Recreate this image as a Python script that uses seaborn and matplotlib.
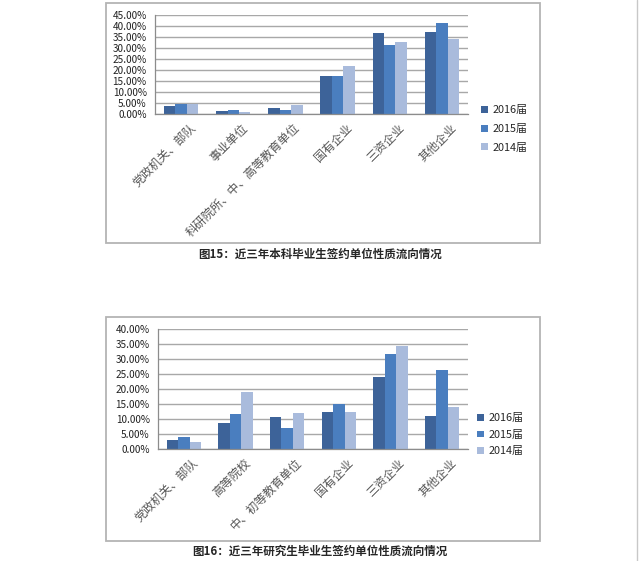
import pandas as pd
import seaborn as sns
import matplotlib.pyplot as plt
import matplotlib.transforms as mtransforms
from matplotlib.patches import Patch, Rectangle
from matplotlib.lines import Line2D
from matplotlib.ticker import FuncFormatter, MultipleLocator, FixedLocator

# data (percent)
years = ['2016届', '2015届', '2014届']

cats1 = ['党政机关、部队', '事业单位', '科研院所、中、高等教育单位', '国有企业', '三资企业', '其他企业']
v1_2016 = [3.8, 1.4, 2.9, 17.2, 36.6, 37.2]
v1_2015 = [4.7, 1.7, 2.0, 17.3, 31.3, 41.3]
v1_2014 = [4.7, 1.1, 4.1, 21.9, 32.7, 34.0]

cats2 = ['党政机关、部队', '高等院校', '中、初等教育单位', '国有企业', '三资企业', '其他企业']
v2_2016 = [3.0, 8.6, 10.6, 12.4, 24.1, 11.1]
v2_2015 = [4.0, 11.6, 7.0, 15.0, 31.7, 26.2]
v2_2014 = [2.5, 19.0, 12.0, 12.2, 34.3, 14.1]

caption1 = '图15：近三年本科毕业生签约单位性质流向情况'
caption2 = '图16：近三年研究生毕业生签约单位性质流向情况'

colors = ['#3d6399', '#4a7ebf', '#a9bbdc']

sns.set_style('white')
plt.rcParams['font.family'] = ['Noto Sans CJK SC', 'DejaVu Sans']

W, H = 640, 561
fig = plt.figure(figsize=(W / 100, H / 100), dpi=100)


def long_df(cats, a, b, c):
    rows = []
    for yr, vals in zip(years, [a, b, c]):
        for cat, v in zip(cats, vals):
            rows.append({'单位': cat, '比例': v, '届': yr})
    return pd.DataFrame(rows)


def px_axes(left, top, right, bottom):
    return fig.add_axes([left / W, 1 - bottom / H, (right - left) / W, (bottom - top) / H])


def box(left, top, right, bottom):
    fig.patches.append(Rectangle((left / W, 1 - bottom / H), (right - left) / W, (bottom - top) / H,
                                 transform=fig.transFigure, fill=False,
                                 edgecolor='#b4b4b4', lw=1.3))


def draw(ax, df, cats, ymax, legend_xy, spacing):
    sns.barplot(data=df, x='单位', y='比例', hue='届', order=cats, hue_order=years,
                palette=colors, width=0.66, saturation=1, legend=False, ax=ax,
                edgecolor='none')
    ax.set_ylim(0, ymax)
    ax.set_xlim(-0.5, len(cats) - 0.5)
    ax.yaxis.set_major_locator(MultipleLocator(5))
    ax.yaxis.set_major_formatter(FuncFormatter(lambda v, _: f'{v:.2f}%'))
    ax.grid(axis='y', color='#a8a8a8', lw=1)
    ax.set_axisbelow(True)
    ax.set_xlabel('')
    ax.set_ylabel('')
    for s in ['top', 'right']:
        ax.spines[s].set_visible(False)
    for s in ['left', 'bottom']:
        ax.spines[s].set_color('#8c8c8c')
        ax.spines[s].set_linewidth(0.9)
    ax.xaxis.set_minor_locator(FixedLocator([i - 0.5 for i in range(len(cats) + 1)]))
    ax.tick_params(axis='x', which='major', length=0, pad=3)
    ax.tick_params(axis='x', which='minor', length=4, color='#8c8c8c', direction='out')
    ax.tick_params(axis='y', length=4, color='#8c8c8c', direction='out', labelsize=7.2,
                   pad=2, labelcolor='#222222')
    ax.set_xticks(range(len(cats)))
    ax.set_xticklabels(cats, rotation=45, ha='right', rotation_mode='anchor',
                       fontsize=8.6, color='#555555')
    shift = mtransforms.ScaledTranslation(8 / 100, -3 / 100, fig.dpi_scale_trans)
    for lab in ax.get_xticklabels():
        lab.set_transform(lab.get_transform() + shift)
    handles = [Patch(facecolor=c, edgecolor='none') for c in colors]
    ax.legend(handles, years, loc='upper left', bbox_to_anchor=legend_xy,
              bbox_transform=fig.transFigure, frameon=False, fontsize=7.8,
              handlelength=0.6, handleheight=0.6, handletextpad=0.4,
              labelspacing=spacing, borderaxespad=0)


# chart 1
box(106, 3, 540, 243)
ax1 = px_axes(155, 15, 468, 114)
draw(ax1, long_df(cats1, v1_2016, v1_2015, v1_2014), cats1, 45,
     (477 / W, 1 - 101 / H), 0.8)
fig.text(320 / W, 1 - 254 / H, caption1, ha='center', va='center',
         fontsize=8.3, fontweight='bold')

# chart 2
box(106, 317, 540, 541)
ax2 = px_axes(158, 329, 468, 449)
draw(ax2, long_df(cats2, v2_2016, v2_2015, v2_2014), cats2, 40,
     (473 / W, 1 - 409 / H), 0.6)
fig.text(320 / W, 1 - 551 / H, caption2, ha='center', va='center',
         fontsize=8.3, fontweight='bold')

# page edge line on the right
fig.add_artist(Line2D([637 / W, 637 / W], [0, 1], transform=fig.transFigure,
                      color='#c8c8c8', lw=1))

fig.savefig('out.png', dpi=100)
